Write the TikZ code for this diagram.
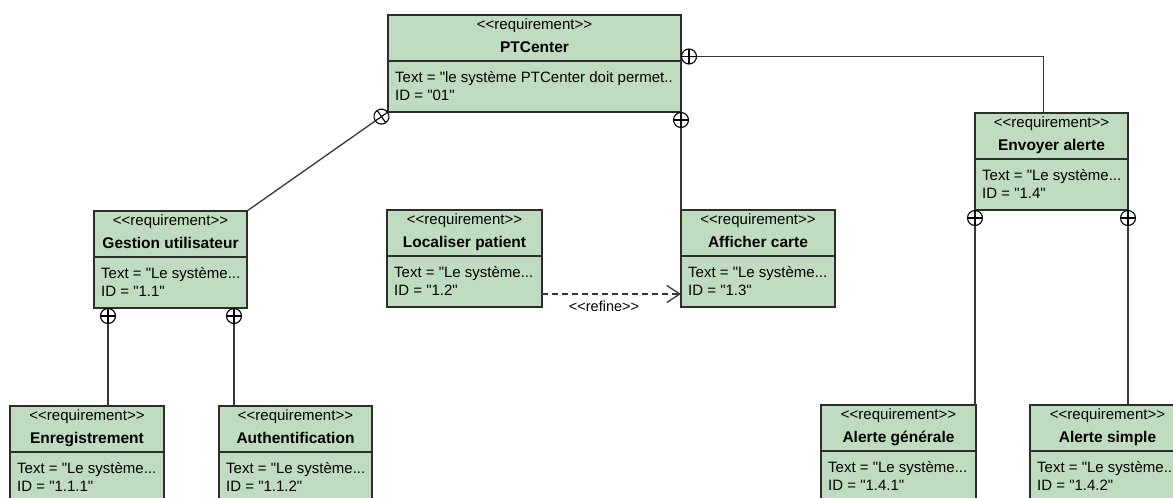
\documentclass[tikz,border=0pt]{standalone}
\usepackage{fontspec}
\newfontfamily\umlfont{Liberation Sans}
\usetikzlibrary{calc,arrows.meta}

\definecolor{reqfill}{RGB}{192,220,192}
\definecolor{reqline}{RGB}{45,45,45}
\definecolor{linkline}{RGB}{55,55,55}

\tikzset{
  reqbox/.style={draw=reqline, fill=reqfill, line width=1.3pt, rectangle,
    minimum height=97pt, inner sep=0pt, outer sep=0pt, anchor=north west},
  divider/.style={draw=reqline, line width=1.3pt},
  stereo/.style={inner sep=0pt, anchor=base, font=\umlfont\fontsize{15}{17}\selectfont},
  reqtitle/.style={inner sep=0pt, anchor=base, font=\umlfont\bfseries\fontsize{15.5}{18}\selectfont},
  attr/.style={inner sep=0pt, anchor=base west, font=\umlfont\fontsize{15}{17}\selectfont},
  link/.style={draw=linkline, line width=1.3pt},
  containment/.style={circle, draw=black, line width=1.1pt, fill=white,
    minimum size=15pt, inner sep=0pt, outer sep=0pt},
  crossbar/.style={draw=black, line width=1.1pt},
  refine/.style={draw=linkline, line width=1.3pt, dash pattern=on 6pt off 4pt,
    -{Straight Barb[length=13pt, width=17pt, line width=1.3pt]}},
  linklabel/.style={inner sep=0pt, font=\umlfont\fontsize{14.5}{16}\selectfont}
}

% requirement box: name, left, top, width, title, text, id
\newcommand\reqbox[7]{%
  \node[reqbox, minimum width=#4pt] (#1) at (#2,#3) {};
  \draw[divider] ([yshift=-46pt]#1.north west) -- ([yshift=-46pt]#1.north east);
  \node[stereo] (#1-st) at ([yshift=-14pt]#1.north) {<{}<requirement>{}>};
  \node[reqtitle] (#1-nm) at ([yshift=-37pt]#1.north) {#5};
  \node[attr] (#1-tx) at ([xshift=7pt,yshift=-67pt]#1.north west) {Text = "#6};
  \node[attr] (#1-id) at ([xshift=7pt,yshift=-85pt]#1.north west) {ID = "#7"};
}

% containment marker: circle with a cross, drawn after the node
\newcommand\cmark[3][0]{%
  \node[containment, rotate=#1] (#2) at #3 {};
  \draw[crossbar] (#2.north) -- (#2.south) (#2.west) -- (#2.east);
}

\begin{document}
\begin{tikzpicture}[x=1pt,y=-1pt]
\useasboundingbox (0,0) rectangle (1173,498);
\clip (0,0) rectangle (1173,498);

% requirement boxes
\reqbox{ptc}{388}{15}{293}{PTCenter}{le système PTCenter doit permet..}{01}
\reqbox{gest}{94}{211}{153}{Gestion utilisateur}{Le système...}{1.1}
\reqbox{loc}{387}{210}{155}{Localiser patient}{Le système...}{1.2}
\reqbox{aff}{681}{210}{154}{Afficher carte}{Le système...}{1.3}
\reqbox{env}{975}{113}{153}{Envoyer alerte}{Le système...}{1.4}
\reqbox{enr}{10}{406}{154}{Enregistrement}{Le système...}{1.1.1}
\reqbox{aut}{219}{406}{153}{Authentification}{Le système...}{1.1.2}
\reqbox{ag}{821}{405}{155}{Alerte générale}{Le système...}{1.4.1}
\reqbox{as}{1030}{405}{155}{Alerte simple}{Le système...}{1.4.2}

% containment markers
\cmark[35]{pd}{($(ptc.south west)!8pt!(gest.north east)$)}
\cmark{pr}{([xshift=8pt,yshift=-41.5pt]ptc.north east)}
\cmark{pb}{([yshift=-8pt]ptc.south east)}
\cmark{gl}{([xshift=14pt,yshift=-8pt]gest.south west)}
\cmark{gr}{([xshift=-13pt,yshift=-8pt]gest.south east)}
\cmark{el}{([yshift=-8pt]env.south west)}
\cmark{er}{([yshift=-8pt]env.south east)}

% containment links
\coordinate (envtop) at ([xshift=-8pt]env.north);
\draw[link] (pd) -- (gest.north east);
\draw[link] (pr.east) -| (envtop);
\draw[link] (pb.south) -- (aff.north west);
\draw[link] (gl.south) -- (gl.south |- enr.north);
\draw[link] (gr.south) -- (gr.south |- aut.north);
\draw[link] (el.south) -- (el.south |- ag.north);
\draw[link] (er.south) -- (er.south |- as.north);

% refine dependency
\draw[refine] ([yshift=-84pt]loc.north east) -- ([yshift=-84pt]aff.north west);
\node[linklabel] (reflbl) at (604,306) {<{}<refine>{}>};
\end{tikzpicture}
\end{document}
